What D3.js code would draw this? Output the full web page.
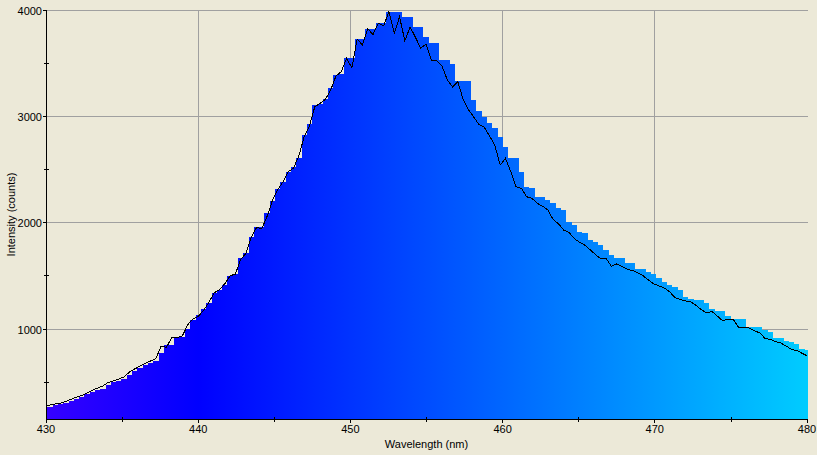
<!DOCTYPE html>
<html><head><meta charset="utf-8">
<script src="https://cdn.jsdelivr.net/npm/d3@7"></script>
<style>
html,body{margin:0;padding:0;background:#ECE9D8;}
svg{display:block;}
text{font-family:"Liberation Sans",Arial,sans-serif;font-size:11px;fill:#000;}
</style></head><body>
<svg id="chart" width="817" height="455"></svg>
<script>
// spectrometer pixel grid (nm)
const wlStart = 429.913;
const wlStep = 0.348;
// bar series (counts)
const barCounts = [
 263, 268, 285, 291, 300, 322, 345, 362, 385, 406,
 428, 440, 478, 500, 512, 527, 565, 605, 635, 665,
 682, 702, 771, 846, 846, 921, 921, 1000, 1084, 1128,
 1188, 1245, 1335, 1370, 1418, 1502, 1515, 1668, 1715, 1865,
 1955, 1955, 2094, 2205, 2320, 2385, 2472, 2525, 2610, 2820,
 2925, 3105, 3120, 3160, 3262, 3388, 3402, 3545, 3545, 3725,
 3725, 3820, 3820, 3875, 3875, 3980, 3982, 3982, 3937, 3937,
 3843, 3843, 3749, 3692, 3692, 3530, 3530, 3489, 3335, 3335,
 3335, 3158, 3052, 2996, 2935, 2890, 2805, 2712, 2605, 2605,
 2474, 2335, 2323, 2244, 2238, 2213, 2182, 2141, 2119, 2003,
 1978, 1915, 1900, 1837, 1821, 1790, 1743, 1696, 1668, 1668,
 1621, 1621, 1564, 1564, 1539, 1517, 1477, 1439, 1414, 1392,
 1367, 1298, 1279, 1273, 1273, 1247, 1188, 1169, 1169, 1122,
 1094, 1094, 1094, 1021, 1016, 1016, 990, 975, 915, 915,
 890, 881, 859, 815, 802
];
// line series (counts)
const lineCounts = [
 275, 285, 296, 303, 318, 340, 360, 375, 400, 425,
 445, 465, 498, 512, 530, 550, 595, 625, 652, 678,
 700, 722, 840, 828, 921, 921, 935, 1040, 1095, 1120,
 1175, 1250, 1340, 1370, 1425, 1500, 1517, 1655, 1711, 1860,
 1956, 1945, 2060, 2210, 2310, 2385, 2479, 2515, 2630, 2810,
 2912, 3091, 3122, 3160, 3248, 3380, 3420, 3546, 3457, 3727,
 3671, 3821, 3771, 3875, 3852, 3984, 3781, 3935, 3711, 3840,
 3743, 3640, 3680, 3530, 3523, 3475, 3345, 3276, 3326, 3160,
 3063, 2994, 2923, 2898, 2815, 2727, 2542, 2605, 2479, 2338,
 2323, 2244, 2229, 2182, 2155, 2120, 2030, 1990, 1930, 1908,
 1850, 1815, 1788, 1745, 1700, 1660, 1665, 1590, 1612, 1590,
 1562, 1550, 1528, 1500, 1460, 1425, 1405, 1385, 1350, 1295,
 1278, 1265, 1255, 1222, 1180, 1153, 1165, 1122, 1078, 1091,
 1091, 1016, 1016, 1010, 982, 965, 912, 903, 881, 868,
 840, 808, 798, 772, 746
];
const xDomain = [430, 480];
const yDomain = [154, 4000];
const xTicks = [430, 440, 450, 460, 470, 480];
const xMinorTicks = [435, 445, 455, 465, 475];
const yTicks = [1000, 2000, 3000, 4000];
const yMinorTicks = [500, 1500, 2500, 3500];
const colorWl = [430, 440, 480];
const colorHex = ["#3600ff", "#0000ff", "#00ccff"];
const xTitle = "Wavelength (nm)";
const yTitle = "Intensity (counts)";

const svg = d3.select("#chart");
const L = 46, R = 807, T = 10, B = 419;
const x = d3.scaleLinear().domain(xDomain).range([L, R]);
const y = d3.scaleLinear().domain(yDomain).range([B, T]);
const px = v => Math.floor(v + 0.1);

const defs = svg.append("defs");
const grad = defs.append("linearGradient").attr("id", "spec")
  .attr("gradientUnits", "userSpaceOnUse")
  .attr("x1", x(xDomain[0])).attr("x2", x(xDomain[1])).attr("y1", 0).attr("y2", 0);
colorWl.forEach((w, i) => grad.append("stop")
  .attr("offset", (w - xDomain[0]) / (xDomain[1] - xDomain[0]))
  .attr("stop-color", colorHex[i]));
defs.append("clipPath").attr("id", "plot").append("rect")
  .attr("x", L + 1).attr("y", 0).attr("width", R - L).attr("height", B);

// grid
const grid = svg.append("g").attr("stroke", "#a0a0a0").attr("stroke-width", 1).attr("shape-rendering", "crispEdges");
yTicks.forEach(t => grid.append("line")
  .attr("x1", L).attr("x2", R + 1).attr("y1", px(y(t)) + 0.5).attr("y2", px(y(t)) + 0.5));
xTicks.slice(1, -1).forEach(t => grid.append("line")
  .attr("x1", px(x(t)) + 0.5).attr("x2", px(x(t)) + 0.5).attr("y1", T).attr("y2", B));

// bars
const wl = i => wlStart + i * wlStep;
svg.append("g").attr("clip-path", "url(#plot)").attr("shape-rendering", "crispEdges")
  .selectAll("rect").data(barCounts).join("rect")
  .attr("x", (d, i) => Math.round(x(wl(i) - wlStep / 2)))
  .attr("width", (d, i) => Math.round(x(wl(i) + wlStep / 2)) - Math.round(x(wl(i) - wlStep / 2)))
  .attr("y", d => Math.round(y(d)))
  .attr("height", d => B - Math.round(y(d)))
  .attr("fill", "url(#spec)");

// line
svg.append("path").attr("clip-path", "url(#plot)")
  .datum(lineCounts)
  .attr("d", d3.line().x((d, i) => x(wl(i))).y(d => y(d)))
  .attr("fill", "none").attr("stroke", "#000").attr("stroke-width", 1)
  .attr("shape-rendering", "crispEdges");

// axes
const ax = svg.append("g").attr("stroke", "#000").attr("shape-rendering", "crispEdges");
ax.append("line").attr("x1", L + 0.5).attr("x2", L + 0.5).attr("y1", T).attr("y2", B + 1);
ax.append("line").attr("x1", L).attr("x2", R + 1).attr("y1", B + 0.5).attr("y2", B + 0.5);
yTicks.forEach(t => ax.append("line").attr("x1", L - 3).attr("x2", L + 1)
  .attr("y1", px(y(t)) + 0.5).attr("y2", px(y(t)) + 0.5));
yMinorTicks.filter(t => y(t) >= T && y(t) <= B).forEach(t => ax.append("line").attr("x1", L - 2).attr("x2", L + 3)
  .attr("y1", px(y(t)) + 0.5).attr("y2", px(y(t)) + 0.5));
xTicks.forEach(t => ax.append("line").attr("x1", px(x(t)) + 0.5).attr("x2", px(x(t)) + 0.5)
  .attr("y1", B).attr("y2", B + 4));
xMinorTicks.forEach(t => ax.append("line").attr("x1", px(x(t)) + 0.5).attr("x2", px(x(t)) + 0.5)
  .attr("y1", B - 2).attr("y2", B + 3));

const tx = svg.append("g");
yTicks.forEach(t => tx.append("text").attr("x", 42).attr("y", px(y(t)) + 4.5)
  .attr("text-anchor", "end").text(t));
xTicks.forEach(t => tx.append("text").attr("x", x(t)).attr("y", 433)
  .attr("text-anchor", "middle").text(t));
tx.append("text").attr("x", (L + R) / 2).attr("y", 448).attr("text-anchor", "middle").text(xTitle);
tx.append("text").attr("transform", `translate(15,${(T + B) / 2}) rotate(-90)`)
  .attr("text-anchor", "middle").text(yTitle);
</script>
</body></html>
